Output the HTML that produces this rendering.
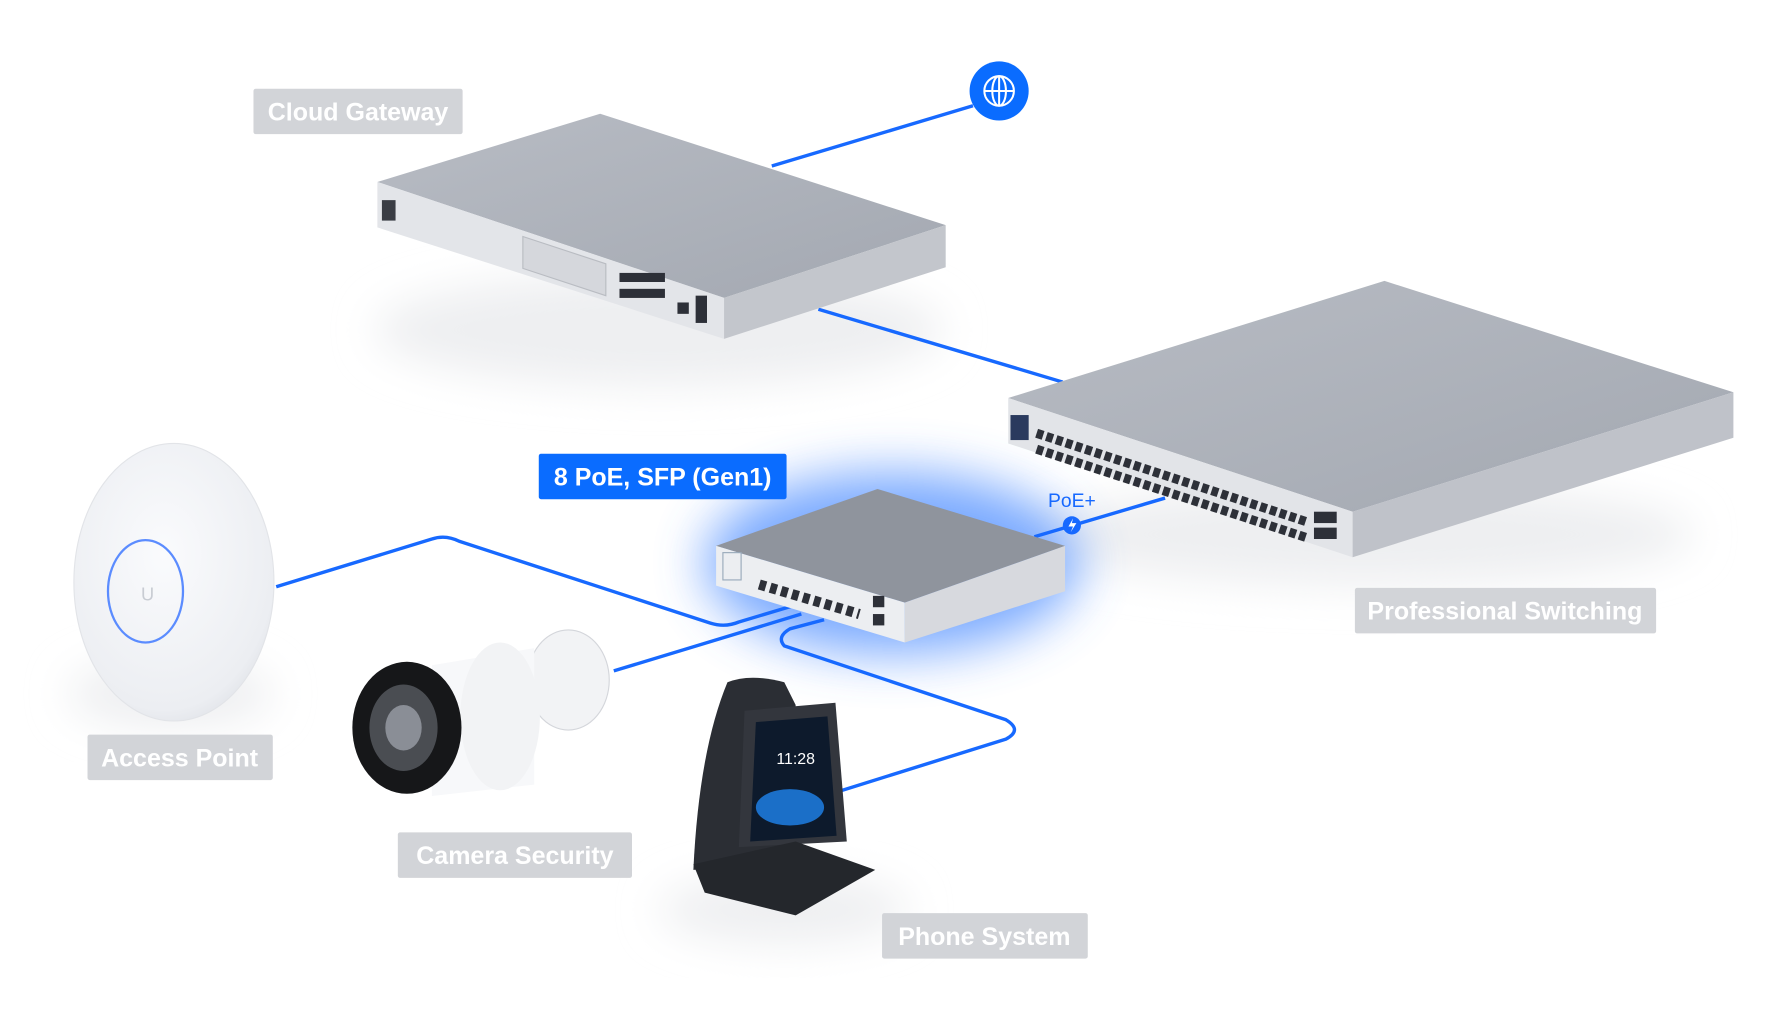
<!DOCTYPE html>
<html><head><meta charset="utf-8"><style>
html,body{margin:0;padding:0;background:#fff;width:1780px;height:1020px;overflow:hidden}
svg{display:block}
text{font-family:"Liberation Sans",sans-serif}
</style></head><body>
<svg width="1780" height="1020" viewBox="0 0 1566 897" preserveAspectRatio="none">
<defs>
<filter id="blur" x="-50%" y="-50%" width="200%" height="200%"><feGaussianBlur stdDeviation="22"/></filter>
<filter id="sblur" x="-50%" y="-50%" width="200%" height="200%"><feGaussianBlur stdDeviation="18"/></filter>
<linearGradient id="top" x1="0" y1="0" x2="1" y2="1"><stop offset="0" stop-color="#b8bcc4"/><stop offset="1" stop-color="#a3a8b1"/></linearGradient>
<radialGradient id="ap" cx="0.45" cy="0.4" r="0.7"><stop offset="0" stop-color="#fafbfd"/><stop offset="0.8" stop-color="#eceef2"/><stop offset="1" stop-color="#d9dce2"/></radialGradient>
</defs>
<ellipse cx="580" cy="290" rx="250" ry="50" fill="#eeeff1" filter="url(#sblur)"/>
<ellipse cx="1200" cy="470" rx="290" ry="45" fill="#eeeff1" filter="url(#sblur)"/>
<ellipse cx="150" cy="610" rx="90" ry="30" fill="#eeeff1" filter="url(#sblur)"/>
<ellipse cx="690" cy="800" rx="110" ry="30" fill="#eeeff1" filter="url(#sblur)"/>
<ellipse cx="785" cy="495" rx="165" ry="80" fill="#4d8dff" opacity="0.75" filter="url(#blur)"/>
<g fill="none" stroke="#1769ff" stroke-width="3" stroke-linejoin="round">
<path d="M679 146 L856 93"/>
<path d="M720 272 L935 336"/>
<path d="M910 472 L1025 438"/>
<path d="M243 516 L380 474 Q392 470 404 476 L625 548 Q638 552 650 547 L700 532"/>
<path d="M540 590 L705 540"/>
<path d="M725 545 L695 553 Q683 560 690 568 L885 633 Q900 642 885 650 L725 700"/>
</g>
<circle cx="879" cy="80" r="26" fill="#0a6cff"/>
<g fill="none" stroke="#fff" stroke-width="1.8"><circle cx="879" cy="80" r="13"/><ellipse cx="879" cy="80" rx="6" ry="13"/><line x1="866" y1="80" x2="892" y2="80"/><line x1="879" y1="67" x2="879" y2="93"/></g>
<polygon points="332,160 528,100 832,198 637,262" fill="url(#top)"/>
<polygon points="332,160 637,262 637,298 332,200" fill="#e3e5e9"/>
<polygon points="637,262 832,198 832,235 637,298" fill="#c3c6cc"/>
<polygon points="460,208 533,232 533,260 460,236" fill="#d5d7dc" stroke="#b9bcc2"/>
<rect x="336" y="176" width="12" height="18" fill="#3a3d44"/>
<g fill="#2d3038"><rect x="545" y="240" width="40" height="8"/><rect x="545" y="254" width="40" height="8"/><rect x="596" y="266" width="10" height="10"/><rect x="612" y="260" width="10" height="24"/></g>
<polygon points="887,350 1218,247 1525,345 1190,450" fill="url(#top)"/>
<polygon points="887,350 1190,450 1190,490 887,390" fill="#e2e4e8"/>
<polygon points="1190,450 1525,345 1525,385 1190,490" fill="#bfc2c9"/>
<rect x="889" y="365" width="16" height="22" fill="#2a3a5e"/>
<g stroke="#2d3038" stroke-width="8" stroke-dasharray="6 3"><line x1="912" y1="381" x2="1150" y2="459"/><line x1="912" y1="395" x2="1150" y2="473"/></g>
<g fill="#2d3038"><rect x="1156" y="450" width="20" height="10"/><rect x="1156" y="464" width="20" height="10"/></g>
<polygon points="630,480 772,430 937,480 796,530" fill="#8f949d"/>
<polygon points="630,480 796,530 796,565 630,515" fill="#eceef1"/>
<polygon points="796,530 937,480 937,520 796,565" fill="#d7d9de"/>
<rect x="636" y="486" width="16" height="24" fill="none" stroke="#9ab" stroke-width="1"/>
<line x1="668" y1="514" x2="756" y2="540" stroke="#2d3038" stroke-width="9" stroke-dasharray="6 4"/>
<g fill="#2d3038"><rect x="768" y="524" width="10" height="10"/><rect x="768" y="540" width="10" height="10"/></g>
<text x="943" y="446" font-size="17" fill="#1769ff" text-anchor="middle">PoE+</text>
<circle cx="943" cy="462" r="8" fill="#1769ff"/><path d="M944 456 L940 463 L944 463 L942 468 L947 460 L943 460 Z" fill="#fff"/>
<ellipse cx="153" cy="512" rx="88" ry="122" fill="url(#ap)" stroke="#e2e4e8"/>
<ellipse cx="128" cy="520" rx="33" ry="45" fill="none" stroke="#5b8cff" stroke-width="2"/>
<text x="124" y="528" font-size="16" fill="#c8ccd3">U</text>
<ellipse cx="500" cy="598" rx="36" ry="44" fill="#f2f3f5" stroke="#d4d6db"/>
<polygon points="380,585 470,570 470,690 380,700" fill="#f7f8fa"/>
<ellipse cx="440" cy="630" rx="35" ry="65" fill="#f2f3f5"/>
<ellipse cx="358" cy="640" rx="48" ry="58" fill="#161719"/>
<ellipse cx="355" cy="640" rx="30" ry="38" fill="#4a4d52"/>
<ellipse cx="355" cy="640" rx="16" ry="20" fill="#8a8e96"/>
<path d="M640 600 Q660 592 690 600 L700 620 L690 760 L610 765 Q615 660 640 600 Z" fill="#2b2e34"/>
<polygon points="655,625 735,618 745,740 650,745" fill="#33363d"/>
<polygon points="665,635 728,630 736,735 660,740" fill="#0d1a2c"/>
<ellipse cx="695" cy="710" rx="30" ry="16" fill="#1b6fc8"/>
<text x="683" y="672" font-size="14" fill="#fff">11:28</text>
<polygon points="610,760 700,740 770,765 700,805 620,785" fill="#24272c"/>
<g font-size="22" fill="#fff" font-weight="bold">
<rect x="223" y="78" width="184" height="40" rx="2" fill="#d2d4d8"/><text x="315" y="106" text-anchor="middle">Cloud Gateway</text>
<rect x="1192" y="517" width="265" height="40" rx="2" fill="#d2d4d8"/><text x="1324" y="545" text-anchor="middle">Professional Switching</text>
<rect x="77" y="646" width="163" height="40" rx="2" fill="#d2d4d8"/><text x="158" y="674" text-anchor="middle">Access Point</text>
<rect x="350" y="732" width="206" height="40" rx="2" fill="#d2d4d8"/><text x="453" y="760" text-anchor="middle">Camera Security</text>
<rect x="776" y="803" width="181" height="40" rx="2" fill="#d2d4d8"/><text x="866" y="831" text-anchor="middle">Phone System</text>
<rect x="474" y="399" width="218" height="40" rx="2" fill="#0a6cff"/><text x="583" y="427" text-anchor="middle">8 PoE, SFP (Gen1)</text>
</g>
</svg>
</body></html>
